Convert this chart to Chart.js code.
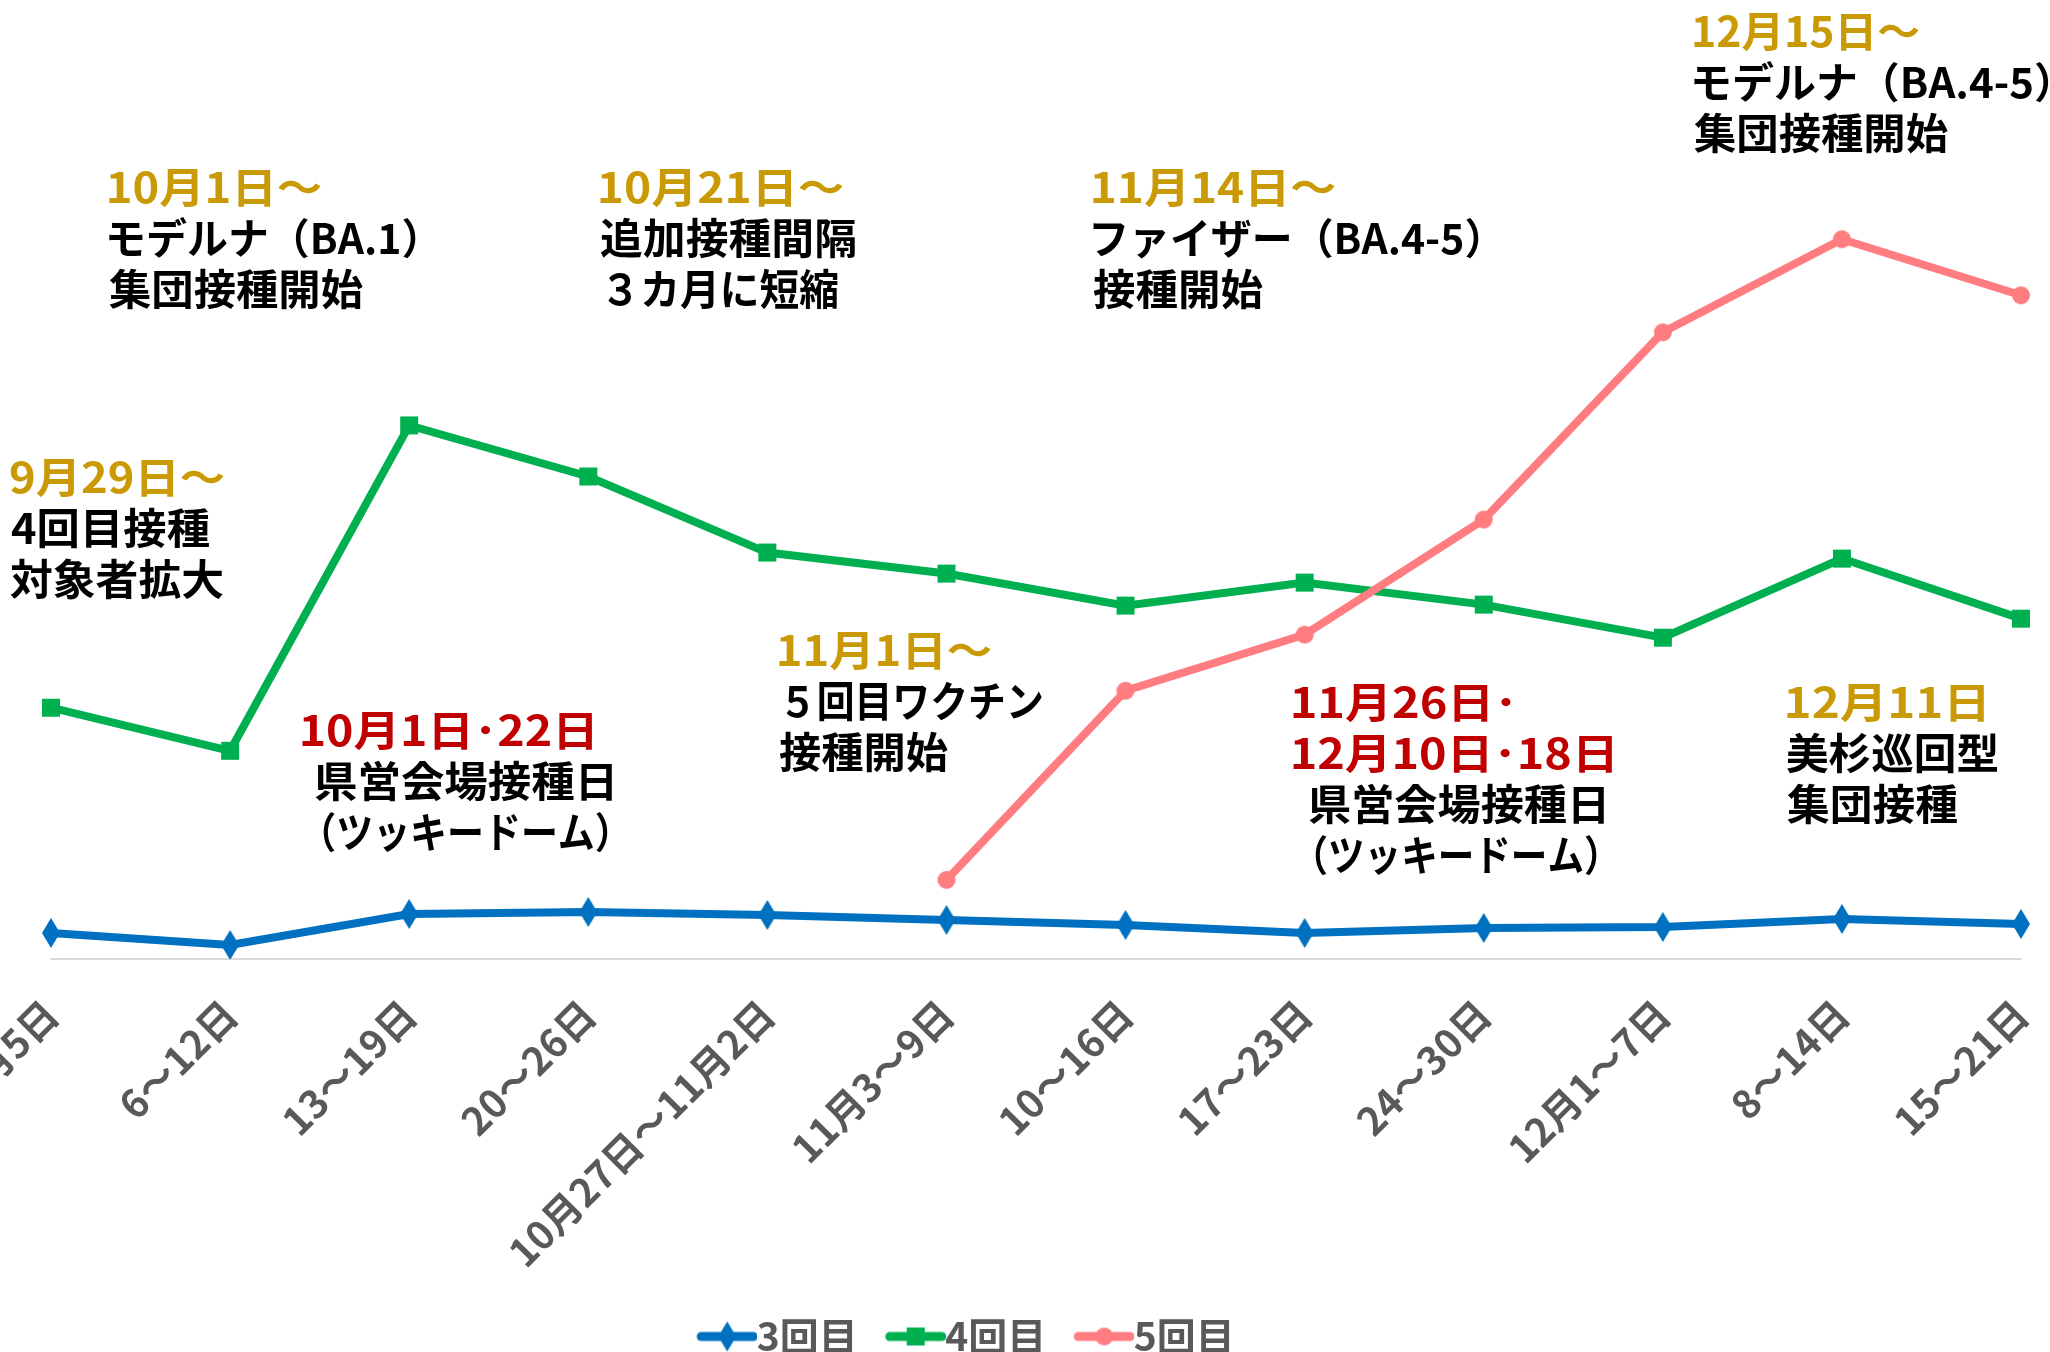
<!DOCTYPE html>
<html><head><meta charset="utf-8">
<script src="https://cdn.jsdelivr.net/npm/chart.js@4.4.0/dist/chart.umd.min.js"></script>
<style>html,body{margin:0;padding:0;background:#fff;overflow:hidden}#wrap{width:2050px;height:1352px;position:relative}</style>
</head><body><div id="wrap"><canvas id="c" width="2050" height="1352"></canvas></div>
<script>
// ---- data ----
const categories = ['9月29日～10月5日','6～12日','13～19日','20～26日','10月27日～11月2日','11月3～9日','10～16日','17～23日','24～30日','12月1～7日','8～14日','15～21日'];
const seriesNames = ['3回目','4回目','5回目'];
const dose3 = [130,70,225,235,220,195,170,130,155,160,200,175];
const dose4 = [1255,1040,2665,2410,2030,1925,1765,1880,1770,1605,2000,1700];
const dose5 = [null,null,null,null,null,395,1340,1620,2195,3130,3595,3315];

// ---- styles ----
const BLUE = '#0070C0', GREEN = '#00B050', PINK = '#FF7C80';
const GOLD = '#C99A06', RED = '#C00000', BLACK = '#000000';
const FONT = '"Noto Sans CJK JP", "Noto Sans", sans-serif';

function drawMarker(ctx, kind, color, cx, cy) {
  ctx.fillStyle = color;
  ctx.beginPath();
  if (kind === 'diamond') {
    ctx.moveTo(cx, cy - 15); ctx.lineTo(cx + 9, cy); ctx.lineTo(cx, cy + 15); ctx.lineTo(cx - 9, cy); ctx.closePath();
  } else if (kind === 'square') {
    ctx.rect(cx - 9, cy - 9, 18, 18);
  } else {
    ctx.arc(cx, cy, 9, 0, Math.PI * 2);
  }
  ctx.fill();
}
function markerImg(kind, color) {
  const c = document.createElement('canvas'); c.width = 22; c.height = 34;
  drawMarker(c.getContext('2d'), kind, color, 11, 17);
  return c;
}
// legend sample: visible line+marker on the right part of a wider transparent image
function legendImg(kind, color) {
  const c = document.createElement('canvas'); c.width = 84; c.height = 34;
  const ctx = c.getContext('2d');
  ctx.strokeStyle = color; ctx.lineWidth = 9; ctx.lineCap = 'round';
  ctx.beginPath(); ctx.moveTo(28, 17); ctx.lineTo(80, 17); ctx.stroke();
  drawMarker(ctx, kind, color, 54, 17);
  return c;
}
const kinds = ['diamond','square','circle'];
const colors = [BLUE, GREEN, PINK];
const values = [dose3, dose4, dose5];

// annotation text: [text, colour, ink-left x, ink width]
const notes = [
  {y:477, lines:[['9月29日～',GOLD,10,214],['4回目接種',BLACK,11,198],['対象者拡大',BLACK,10,213]]},
  {y:187, lines:[['10月1日～',GOLD,109,212],['モデルナ（BA.1）',BLACK,109,307],['集団接種開始',BLACK,109,254]]},
  {y:187, lines:[['10月21日～',GOLD,600,243],['追加接種間隔',BLACK,600,255],['３カ月に短縮',BLACK,608,230]]},
  {y:187, lines:[['11月14日～',GOLD,1093,242],['ファイザー（BA.4-5）',BLACK,1093,386],['接種開始',BLACK,1093,170]]},
  {y:31,  lines:[['12月15日～',GOLD,1694,225],['モデルナ（BA.4-5）',BLACK,1694,355],['集団接種開始',BLACK,1694,254]]},
  {y:650, lines:[['11月1日～',GOLD,779,212],['５回目ワクチン',BLACK,786,256],['接種開始',BLACK,779,169]]},
  {y:730, lines:[['10月1日･22日',RED,302,290],['県営会場接種日',BLACK,315,297],['（ツッキードーム）',BLACK,323,285]]},
  {y:702, lines:[['11月26日･',RED,1293,218],['12月10日･18日',RED,1293,319],['県営会場接種日',BLACK,1309,295],['（ツッキードーム）',BLACK,1315,282]]},
  {y:702, lines:[['12月11日',GOLD,1787,197],['美杉巡回型',BLACK,1787,210],['集団接種',BLACK,1787,170]]}
];
const LINE_GAP = 51;

const notePlugin = {
  id: 'notes',
  afterLayout(chart) {
    // the reference legend sits left of centre
    if (chart.legend) { chart.legend.left -= 72; chart.legend.right -= 72; }
  },
  afterDraw(chart) {
    const ctx = chart.ctx;
    ctx.save();
    ctx.textBaseline = 'middle';
    ctx.textAlign = 'left';
    ctx.font = 'bold 42px ' + FONT;
    notes.forEach(n => {
      n.lines.forEach((l, i) => {
        const m = ctx.measureText(l[0]);
        const inkL = m.actualBoundingBoxLeft, inkR = m.actualBoundingBoxRight;
        const s = l[3] / (inkL + inkR);
        ctx.save();
        ctx.fillStyle = l[1];
        ctx.translate(l[2] + inkL * s, n.y + i * LINE_GAP);
        ctx.scale(s, 1);
        ctx.fillText(l[0], 0, 0);
        ctx.restore();
      });
    });
    ctx.restore();
  }
};

new Chart(document.getElementById('c'), {
  type: 'line',
  data: {
    labels: categories,
    datasets: seriesNames.map((name, i) => ({
      label: name,
      data: values[i],
      borderColor: colors[i],
      backgroundColor: colors[i],
      borderWidth: 8,
      pointStyle: markerImg(kinds[i], colors[i]),
      pointRadius: 9,
      tension: 0,
      order: 2 - i,
      fill: false
    }))
  },
  options: {
    responsive: false,
    animation: false,
    devicePixelRatio: 1,
    layout: { padding: { left: 51, right: 29, top: 38, bottom: -14 } },
    scales: {
      x: {
        offset: false,
        grid: { display: false },
        border: { display: true, color: '#D9D9D9', width: 2 },
        ticks: {
          autoSkip: false, minRotation: 45, maxRotation: 45, padding: 24,
          color: '#595959', font: { family: FONT, size: 39, weight: 'bold' }
        },
        afterFit(scale) { scale.paddingLeft = 0; scale.paddingRight = 0; scale.height = 334; }
      },
      y: { display: false, min: 0, max: 4600 }
    },
    plugins: {
      legend: {
        position: 'bottom',
        labels: {
          usePointStyle: true,
          pointStyleWidth: 44,
          padding: 24,
          color: '#595959',
          font: { family: FONT, size: 39, weight: 'bold' },
          generateLabels(chart) {
            return seriesNames.map((name, i) => ({
              text: name, pointStyle: legendImg(kinds[i], colors[i]),
              fillStyle: colors[i], strokeStyle: colors[i], lineWidth: 0,
              fontColor: '#595959', hidden: false, datasetIndex: i
            }));
          }
        }
      },
      tooltip: { enabled: false }
    }
  },
  plugins: [notePlugin]
});
</script></body></html>
